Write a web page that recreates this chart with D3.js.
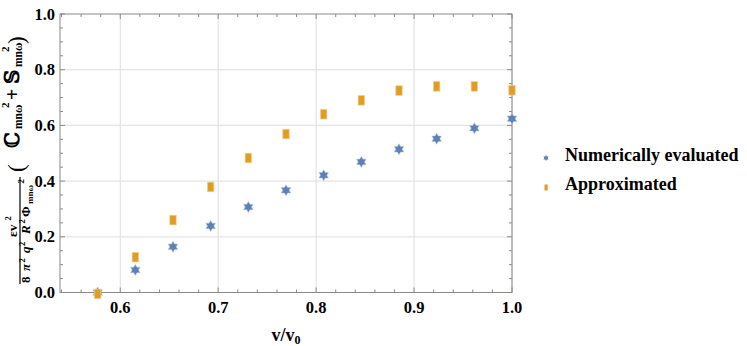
<!DOCTYPE html>
<html><head><meta charset="utf-8">
<script src="https://cdn.jsdelivr.net/npm/d3@7"></script>
<style>body{margin:0;background:#fff}svg{display:block}</style>
</head><body>
<script>
const ratio = [15,16,17,18,19,20,21,22,23,24,25,26].map(k => k/26);
const numerical = [0.0, 0.081, 0.164, 0.239, 0.307, 0.367, 0.421, 0.469, 0.514, 0.552, 0.590, 0.624];
const approximated = [-0.005, 0.127, 0.260, 0.379, 0.483, 0.569, 0.640, 0.690, 0.725, 0.740, 0.740, 0.726];
const xTicks = [0.6, 0.7, 0.8, 0.9, 1.0];
const yTicks = [0.0, 0.2, 0.4, 0.6, 0.8, 1.0];
const seriesNames = ["Numerically evaluated", "Approximated"];
const colors = ["#5e81b5", "#e19c24"];

const FONT = "'Liberation Serif', 'Times New Roman', 'DejaVu Serif', serif";
const W = 747, H = 346;
const L = 60, R = 512, T = 14, B = 292.5;
const svg = d3.select("body").append("svg").attr("width", W).attr("height", H)
  .attr("font-family", FONT).attr("font-weight", "bold");
const x = d3.scaleLinear().domain([14/26, 1]).range([L, R]);
const y = d3.scaleLinear().domain([0, 1]).range([B, T]);

// grid
const g = svg.append("g");
g.selectAll(".vg").data(xTicks).join("line")
  .attr("x1", d => x(d)).attr("x2", d => x(d)).attr("y1", T).attr("y2", B)
  .attr("stroke", "#dcdcdc").attr("stroke-width", 1);
g.selectAll(".hg").data(yTicks.filter(d => d > 0 && d < 1)).join("line")
  .attr("x1", L).attr("x2", R).attr("y1", d => y(d)).attr("y2", d => y(d))
  .attr("stroke", "#e4e4e4").attr("stroke-width", 1.3);

// frame with inward ticks
const fc = "#8a8a8a";
const xMinor = d3.range(0.54, 1.0001, 0.02).map(v => +v.toFixed(2));
const yMinor = d3.range(0, 1.0001, 0.05).map(v => +v.toFixed(2));
function tickLen(v, majors) { return majors.some(m => Math.abs(m - v) < 1e-6) ? 5 : 3; }
xMinor.forEach(v => {
  const len = tickLen(v, xTicks);
  g.append("line").attr("x1", x(v)).attr("x2", x(v)).attr("y1", B).attr("y2", B - len).attr("stroke", fc);
  g.append("line").attr("x1", x(v)).attr("x2", x(v)).attr("y1", T).attr("y2", T + len).attr("stroke", fc);
});
yMinor.forEach(v => {
  const len = tickLen(v, yTicks);
  g.append("line").attr("y1", y(v)).attr("y2", y(v)).attr("x1", L).attr("x2", L + len).attr("stroke", fc);
  g.append("line").attr("y1", y(v)).attr("y2", y(v)).attr("x1", R).attr("x2", R - len).attr("stroke", fc);
});
g.append("rect").attr("x", L).attr("y", T).attr("width", R - L).attr("height", B - T)
  .attr("fill", "none").attr("stroke", fc).attr("stroke-width", 1);

// tick labels
svg.selectAll(".xl").data(xTicks).join("text")
  .attr("x", d => x(d)).attr("y", 313).attr("text-anchor", "middle")
  .attr("font-size", 16.5).text(d => d.toFixed(1));
svg.selectAll(".yl").data(yTicks).join("text")
  .attr("x", 55).attr("y", d => y(d) + 5.5).attr("text-anchor", "end")
  .attr("font-size", 16.5).text(d => d.toFixed(1));

// x label
const xl = svg.append("text").attr("x", 286).attr("y", 341).attr("text-anchor", "middle").attr("font-size", 18);
xl.append("tspan").text("v/v");
xl.append("tspan").attr("font-size", 12).attr("dy", 3).text("0");

// y label (rotated): local (u,v) -> screen (v, 295-u)
const yl = svg.append("g").attr("transform", "translate(0,295) rotate(-90)");
const put = (u, v, s, size, extra) => {
  const t = yl.append("text").attr("x", u).attr("y", v).attr("font-size", size).text(s);
  if (extra) extra(t);
  return t;
};
yl.append("line").attr("x1", 11).attr("x2", 118).attr("y1", 20).attr("y2", 20).attr("stroke", "#000").attr("stroke-width", 1.2);
// numerator
put(58, 17, "εv", 13.5);
put(74.5, 11, "2", 8.5);
// denominator
put(12, 30, "8", 13);
put(24, 30, "π", 13, t => t.attr("font-style", "italic"));
put(32.5, 25, "2", 8.5);
put(42, 30, "q", 13, t => t.attr("font-style", "italic"));
put(49, 25, "2", 8.5);
put(61, 30, "R", 13, t => t.attr("font-style", "italic"));
put(71.5, 25, "2", 8.5);
put(78, 30, "Φ", 13);
put(91, 32.5, "mnω", 9);
put(111.5, 24, "2", 8.5);
// bracketed sum
put(123, 23.5, "(", 23, t => t.attr("font-weight", "normal"));
put(147, 18.5, "ℂ", 20, t => t.style("font-family", "'DejaVu Serif',serif"));
put(166, 21.5, "mnω", 11.5);
put(187, 9, "2", 11);
put(195, 18.5, "+", 20);
put(211, 18.5, "𝕊", 20, t => t.style("font-family", "'DejaVu Serif',serif"));
put(228, 21.5, "mnω", 11.5);
put(243, 9, "2", 11);
put(251, 23.5, ")", 23, t => t.attr("font-weight", "normal"));

// markers
const star = (r) => {
  const pts = [];
  for (let i = 0; i < 12; i++) {
    const a = -Math.PI / 2 + i * Math.PI / 6;
    const rr = i % 2 === 0 ? r : r * 0.58;
    pts.push([rr * Math.cos(a), rr * Math.sin(a)]);
  }
  return "M" + pts.map(p => p.join(",")).join("L") + "Z";
};
svg.selectAll(".s").data(ratio.map((r, i) => [r, numerical[i]])).join("path")
  .attr("d", star(5.5)).attr("transform", d => `translate(${x(d[0])},${y(d[1])})`)
  .attr("fill", colors[0]).attr("stroke", "#b9c8e0").attr("stroke-width", 0.6);
svg.selectAll(".a").data(ratio.map((r, i) => [r, approximated[i]])).join("rect")
  .attr("x", d => x(d[0]) - 3.2).attr("y", d => y(d[1]) - 4.8).attr("width", 6.4).attr("height", 9.6)
  .attr("fill", colors[1]).attr("stroke", "#f3cf90").attr("stroke-width", 0.7);

// legend
const lg = svg.append("g");
lg.append("path").attr("d", star(3)).attr("transform", "translate(546,158)").attr("fill", colors[0]);
lg.append("rect").attr("x", 544.5).attr("y", 184.5).attr("width", 3.2).attr("height", 6).attr("fill", colors[1]);
lg.append("text").attr("x", 565).attr("y", 161).attr("font-size", 18).text(seriesNames[0]);
lg.append("text").attr("x", 565).attr("y", 190).attr("font-size", 18).text(seriesNames[1]);
</script>
</body></html>
